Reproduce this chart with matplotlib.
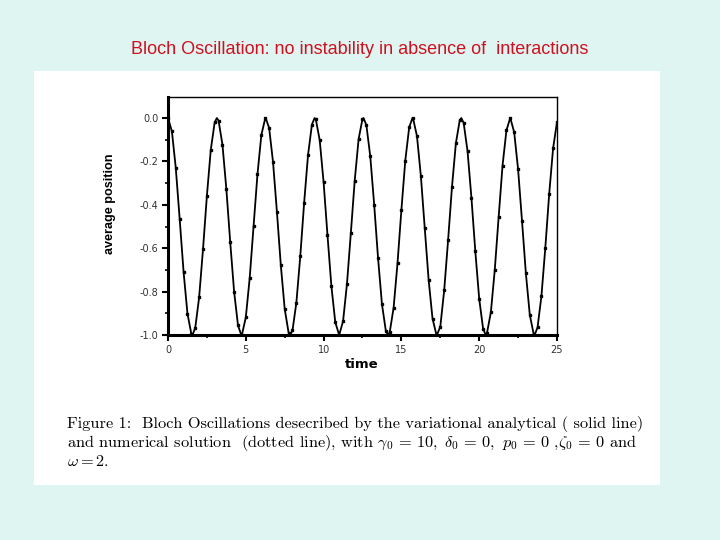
import numpy as np
import matplotlib
matplotlib.use("Agg")
import matplotlib.pyplot as plt
from matplotlib.patches import Rectangle
from matplotlib.ticker import MultipleLocator

plt.rcParams['mathtext.fontset'] = 'cm'

# ---- data ----
sample_time = np.linspace(0, 25, 101)
sample_pos = [
    0.000, -0.061, -0.230, -0.465, -0.708, -0.901, -0.995, -0.968, -0.827, -0.605,
    -0.358, -0.146, -0.020, -0.012, -0.123, -0.327, -0.573, -0.801, -0.956, -0.999,
    -0.919, -0.738, -0.498, -0.259, -0.078, -0.001, -0.046, -0.203, -0.432, -0.678,
    -0.880, -0.989, -0.979, -0.851, -0.638, -0.390, -0.170, -0.030, -0.006, -0.102,
    -0.296, -0.540, -0.774, -0.941, -1.000, -0.937, -0.766, -0.531, -0.288, -0.097,
    -0.004, -0.033, -0.177, -0.399, -0.646, -0.858, -0.981, -0.987, -0.874, -0.669,
    -0.423, -0.196, -0.043, -0.002, -0.083, -0.266, -0.507, -0.746, -0.924, -0.999,
    -0.962, -0.794, -0.564, -0.318, -0.117, -0.010, -0.022, -0.152, -0.367, -0.614,
    -0.833, -0.971, -0.991, -0.895, -0.700, -0.456, -0.219, -0.057, 0.000, -0.066,
    -0.237, -0.473, -0.716, -0.906, -0.996, -0.965, -0.820, -0.597, -0.348, -0.139,
    -0.018,
]
peak_time = [3.14, 6.28, 9.42, 12.57, 15.71, 18.85, 21.99]
peak_pos = [0.0, 0.0, 0.0, 0.0, 0.0, 0.0, 0.0]
trough_time = [1.57, 4.71, 7.85, 11.00, 14.14, 17.28, 20.42, 23.56]
trough_pos = [-1.0, -1.0, -1.0, -1.0, -1.0, -1.0, -1.0, -1.0]

x_ticks = [0, 5, 10, 15, 20, 25]
x_ticklabels = ['0', '5', '10', '15', '20', '25']
y_ticks = [0.0, -0.2, -0.4, -0.6, -0.8, -1.0]
y_ticklabels = ['0.0', '-0.2', '-0.4', '-0.6', '-0.8', '-1.0']

title = "Bloch Oscillation: no instability in absence of  interactions"
caption_lines = [
    "Figure 1:  Bloch Oscillations desecribed by the variational analytical ( solid line)",
    r"and numerical solution  (dotted line), with $\gamma_0\, =\, 10,\ \delta_0\, =\, 0,\ p_0\, =\, 0$ ,$\zeta_0\, =\, 0$ and",
    r"$\omega = 2$.",
]

# combined analytical curve
line_t = np.concatenate([sample_time, peak_time, trough_time])
line_y = np.concatenate([sample_pos, peak_pos, trough_pos])
order = np.argsort(line_t)
line_t = line_t[order]
line_y = line_y[order]

W, H = 720, 540
fig = plt.figure(figsize=(7.2, 5.4), dpi=100, facecolor='#dff5f1')
fig.patches.append(Rectangle((34 / W, 1 - 485 / H), (660 - 34) / W, (485 - 71) / H,
                             transform=fig.transFigure, facecolor='white',
                             edgecolor='none', zorder=-10))

ax = fig.add_axes([168 / W, 1 - 335 / H, (557 - 168) / W, (335 - 97) / H])
ax.set_zorder(5)
ax.plot(line_t, line_y, color='black', lw=1.3, solid_joinstyle='round')
ax.plot(sample_time, sample_pos, ls='none', marker='s', ms=1.9, color='black')
ax.set_xlim(0, 25)
ax.set_ylim(-1.0, 0.097)

ax.set_xticks(x_ticks)
ax.set_xticklabels(x_ticklabels)
ax.set_yticks(y_ticks)
ax.set_yticklabels(y_ticklabels)
ax.xaxis.set_minor_locator(MultipleLocator(2.5))
ax.yaxis.set_minor_locator(MultipleLocator(0.1))
ax.tick_params(which='major', direction='out', length=4, width=1.5,
               labelsize=7, labelcolor='#333333', pad=3)
ax.tick_params(which='minor', direction='out', length=2.5, width=1.2)
for lab in ax.get_xticklabels() + ax.get_yticklabels():
    lab.set_family('DejaVu Sans')

ax.spines['left'].set_linewidth(2.2)
ax.spines['bottom'].set_linewidth(2.2)
ax.spines['top'].set_linewidth(1.0)
ax.spines['right'].set_linewidth(1.0)

fig.text(110 / W, 1 - 204 / H, 'average position', rotation=90, ha='center',
         va='center', fontsize=9.1, fontweight='bold', family='Liberation Sans')
fig.text(362 / W, 1 - 365 / H, 'time', ha='center', va='center', fontsize=9.5,
         fontweight='bold', family='DejaVu Sans')

fig.text(360 / W, 1 - 50 / H, title, ha='center', va='center', fontsize=13,
         color='#d01020', family='Liberation Sans')

for i, line in enumerate(caption_lines):
    fig.text(67 / W, 1 - (424 + 19 * i) / H, line, ha='left', va='center',
             fontsize=11.75, family='cmr10')

fig.savefig('out.png', dpi=100, facecolor=fig.get_facecolor())
